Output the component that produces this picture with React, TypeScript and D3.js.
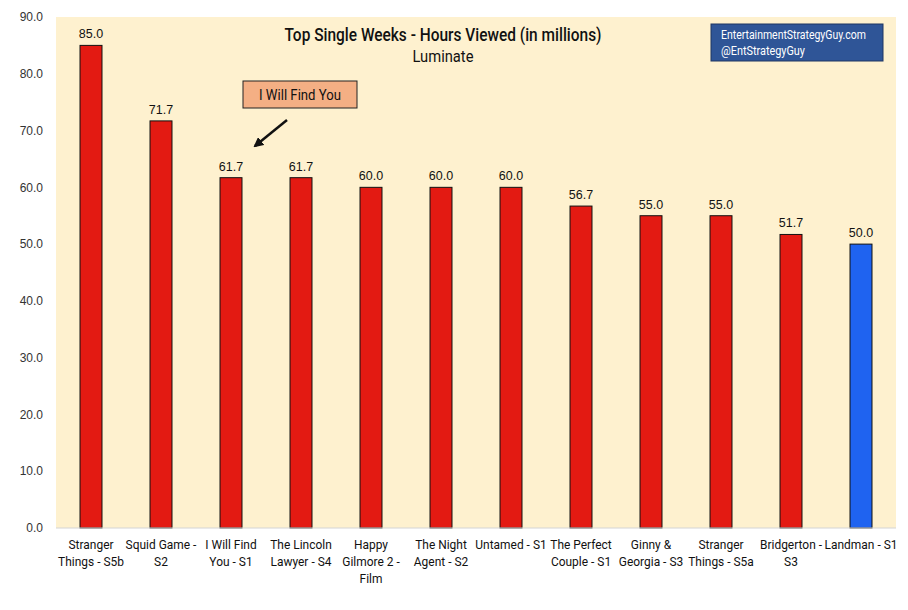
import * as React from 'react';
import * as d3 from 'd3';

const titles: string[] = [
	'Stranger Things - S5b',
	'Squid Game - S2',
	'I Will Find You - S1',
	'The Lincoln Lawyer - S4',
	'Happy Gilmore 2 - Film',
	'The Night Agent - S2',
	'Untamed - S1',
	'The Perfect Couple - S1',
	'Ginny & Georgia - S3',
	'Stranger Things - S5a',
	'Bridgerton - S3',
	'Landman - S1'
];

// label lines as wrapped in the picture
const titleLines: string[][] = [
	['Stranger', 'Things - S5b'],
	['Squid Game -', 'S2'],
	['I Will Find', 'You - S1'],
	['The Lincoln', 'Lawyer - S4'],
	['Happy', 'Gilmore 2 -', 'Film'],
	['The Night', 'Agent - S2'],
	['Untamed - S1'],
	['The Perfect', 'Couple - S1'],
	['Ginny &', 'Georgia - S3'],
	['Stranger', 'Things - S5a'],
	['Bridgerton -', 'S3'],
	['Landman - S1']
];

const hoursViewed: number[] = [85.0, 71.7, 61.7, 61.7, 60.0, 60.0, 60.0, 56.7, 55.0, 55.0, 51.7, 50.0];

const highlighted: string[] = ['Landman - S1'];

const yTicks: number[] = [0, 10, 20, 30, 40, 50, 60, 70, 80, 90];

const narrow = 'Roboto, "Noto Sans", sans-serif';
const plain = '"Liberation Sans", Arial, sans-serif';

export default function App() {
	const width = 908;
	const height = 610;
	const margin = { top: 17, right: 12, bottom: 82, left: 56 };

	const x = d3
		.scaleBand<string>()
		.domain(titles)
		.range([margin.left, width - margin.right])
		.paddingInner(0.686)
		.paddingOuter(0.343);

	const y = d3.scaleLinear().domain([0, 90]).range([height - margin.bottom, margin.top]);

	const outerLeft = margin.left;
	const outerRight = width - margin.right;
	const cx = (t: string) => (x(t) || 0) + x.bandwidth() / 2;

	return (
		<svg
			width={width}
			height={height}
			viewBox={`0 0 ${width} ${height}`}
			style={{ position: 'absolute', left: 0, top: 0 }}
		>
			<rect x={0} y={0} width={width} height={height} fill="#ffffff" />
			<rect
				x={outerLeft}
				y={y(90)}
				width={outerRight - outerLeft}
				height={y(0) - y(90)}
				fill="#fef1cf"
			/>

			{/* y axis labels */}
			{yTicks.map((t) => (
				<text
					key={t}
					x={43}
					y={y(t)}
					dy="0.35em"
					textAnchor="end"
					fontFamily={plain}
					fontSize={12}
					fill="#333"
				>
					{t.toFixed(1)}
				</text>
			))}

			{/* bars */}
			{titles.map((t, i) => (
				<g key={t}>
					<rect
						x={x(t)}
						y={y(hoursViewed[i])}
						width={x.bandwidth()}
						height={y(0) - y(hoursViewed[i])}
						fill={highlighted.includes(t) ? '#1f63f0' : '#e31a12'}
						stroke="#111"
						strokeWidth={1}
					/>
					<text
						x={cx(t)}
						y={y(hoursViewed[i]) - 7}
						textAnchor="middle"
						fontFamily={plain}
						fontSize={12.5}
						fill="#111"
					>
						{hoursViewed[i].toFixed(1)}
					</text>
				</g>
			))}

			<line
				x1={outerLeft}
				x2={outerRight}
				y1={y(0)}
				y2={y(0)}
				stroke="#d4d4d4"
				strokeWidth={1}
			/>

			{/* category labels, squeezed horizontally */}
			{titles.map((t, i) => (
				<g key={t} transform={`translate(${cx(t)},${y(0) + 21}) scale(0.92,1)`}>
					<text textAnchor="middle" fontFamily={narrow} fontSize={13} fill="#111">
						{titleLines[i].map((line, j) => (
							<tspan key={j} x={0} dy={j === 0 ? 0 : 17}>
								{line}
							</tspan>
						))}
					</text>
				</g>
			))}

			{/* title */}
			<text
				x={443}
				y={41}
				textAnchor="middle"
				fontFamily={narrow}
				fontSize={18}
				fontWeight={500}
				fill="#111"
				textLength={317}
				lengthAdjust="spacingAndGlyphs"
			>
				Top Single Weeks - Hours Viewed (in millions)
			</text>
			<text
				x={443}
				y={62}
				textAnchor="middle"
				fontFamily={narrow}
				fontSize={16}
				fill="#111"
				textLength={61}
				lengthAdjust="spacingAndGlyphs"
			>
				Luminate
			</text>

			{/* logo box */}
			<rect x={711} y={24} width={172} height={37} fill="#2f5597" stroke="#1f3763" strokeWidth={1} />
			<text
				x={721}
				y={39}
				fontFamily={narrow}
				fontSize={12}
				fill="#ffffff"
				textLength={145}
				lengthAdjust="spacingAndGlyphs"
			>
				EntertainmentStrategyGuy.com
			</text>
			<text
				x={721}
				y={55}
				fontFamily={narrow}
				fontSize={12}
				fill="#ffffff"
				textLength={84}
				lengthAdjust="spacingAndGlyphs"
			>
				@EntStrategyGuy
			</text>

			{/* annotation */}
			<rect x={243} y={81} width={114} height={27} fill="#f4af84" stroke="#222" strokeWidth={1} />
			<text
				x={300}
				y={99.5}
				textAnchor="middle"
				fontFamily={narrow}
				fontSize={14.5}
				fill="#111"
				textLength={82}
				lengthAdjust="spacingAndGlyphs"
			>
				I Will Find You
			</text>
			<defs>
				<marker id="arr" viewBox="0 0 10 10" refX={8} refY={5} markerWidth={4} markerHeight={4} orient="auto">
					<path d="M0,0 L10,5 L0,10 z" fill="#111" />
				</marker>
			</defs>
			<line
				x1={287}
				y1={120}
				x2={255}
				y2={146}
				stroke="#111"
				strokeWidth={2.5}
				markerEnd="url(#arr)"
			/>
		</svg>
	);
}
